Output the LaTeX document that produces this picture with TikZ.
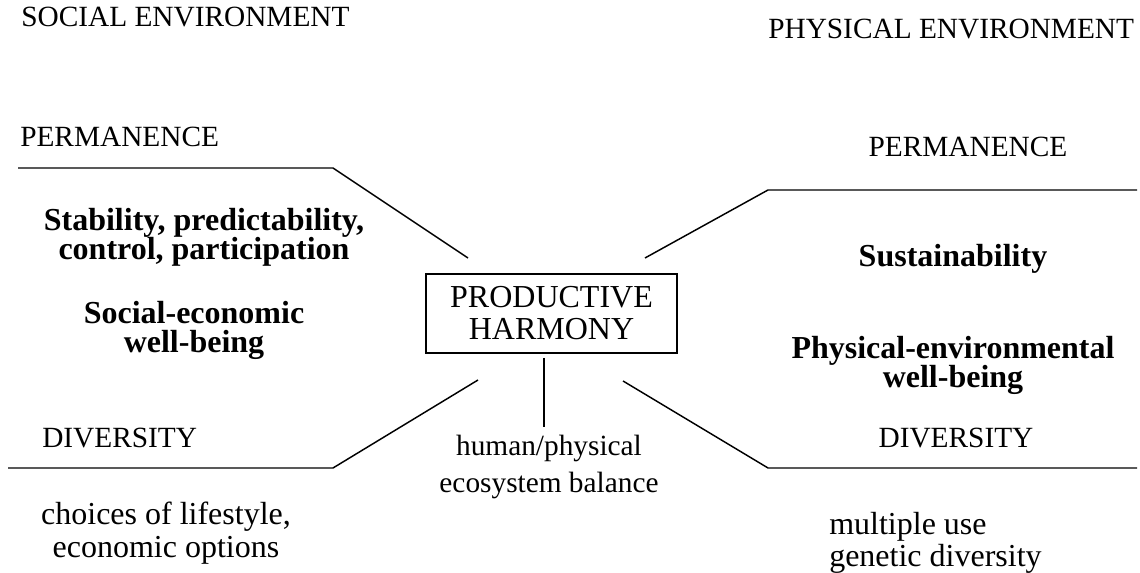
\documentclass[tikz,border=0pt]{standalone}
\usepackage{fontspec}
\setmainfont{Liberation Serif}

\tikzset{
	rule/.style={line width=1.1pt},
	capslabel/.style={font=\fontsize{22}{26}\selectfont, inner sep=0pt},
	boldlabel/.style={font=\fontsize{24}{22}\selectfont\bfseries, align=center, inner sep=0pt},
	plainlabel/.style={font=\fontsize{24}{24.5}\selectfont, inner sep=0pt},
}

\begin{document}
\begin{tikzpicture}[x=0.75pt,y=-0.75pt]
			\useasboundingbox (0,0) rectangle (1140,573);
			\node[capslabel, anchor=base west] (SE) at (21,27) {SOCIAL ENVIRONMENT};
			\node[capslabel, anchor=base west] (PE) at (768,39) {PHYSICAL ENVIRONMENT};
			
			\node[draw, rule, font=\fontsize{24}{24}\selectfont, align=center, minimum width=188pt, minimum height=59pt] (PH) at (551.5,313.5) {PRODUCTIVE\\HARMONY};
			
			\node[capslabel, anchor=base west] (SP) at (20,147) {PERMANENCE};
			\node[capslabel, anchor=base] (PP) at (968,157) {PERMANENCE};
			\node[capslabel, anchor=base west] (SD) at (42,448) {DIVERSITY};
			\node[capslabel, anchor=base] (PD) at (956,448) {DIVERSITY};
			
			\node[boldlabel, anchor=base] (stab) at (204,260) {Stability, predictability,\\control, participation};
			\node[boldlabel, anchor=base] (swb) at (194,353) {Social-economic\\well-being};
			\node[boldlabel, anchor=base] (sust) at (953,267) {Sustainability};
			\node[boldlabel, anchor=base] (pwb) at (953,388) {Physical-environmental\\well-being};
			
			\node[capslabel, align=center, font=\fontsize{22}{27.75}\selectfont, anchor=base] (bal) at (549,493) {human/physical\\ecosystem balance};
			\node[plainlabel, align=center, font=\fontsize{24}{24.75}\selectfont, anchor=base] (opt) at (166,558) {choices of lifestyle,\\economic options};
			\node[plainlabel, align=left, anchor=base west] (use) at (829,567) {multiple use\\genetic diversity};
			
			\coordinate (a0) at (18,168);
			\coordinate (a1) at (333,168);
			\coordinate (a2) at (468,258);
			\coordinate (b0) at (8,468);
			\coordinate (b1) at (333,468);
			\coordinate (b2) at (478,380);
			\coordinate (c0) at (1137,190);
			\coordinate (c1) at (768,190);
			\coordinate (c2) at (645,258);
			\coordinate (d0) at (1137,468);
			\coordinate (d1) at (768,468);
			\coordinate (d2) at (623,381);
			\coordinate (e0) at (544,358);
			\coordinate (e1) at (544,427);
			
			\draw[rule] (a0) -- (a1) -- (a2);
			\draw[rule] (b0) -- (b1) -- (b2);
			\draw[rule] (c0) -- (c1) -- (c2);
			\draw[rule] (d0) -- (d1) -- (d2);
			\draw[rule] (e0) -- (e1);
			\end{tikzpicture}
\end{document}
